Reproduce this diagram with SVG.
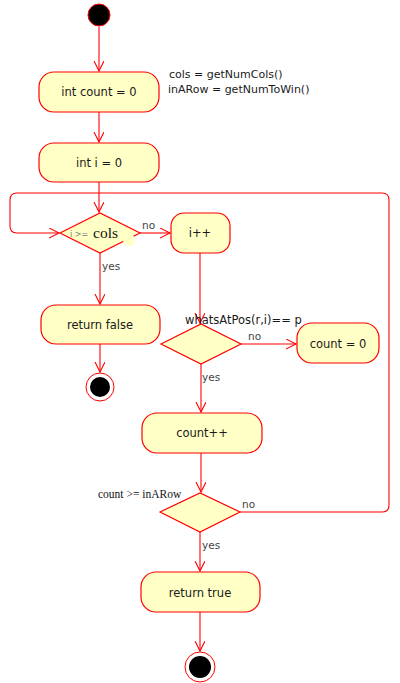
<svg xmlns="http://www.w3.org/2000/svg" width="400" height="683" viewBox="0 0 400 683">
<style>
.node{fill:#ffffc6;stroke:#ff0000;stroke-width:1.2}
.edge{fill:none;stroke:#ff0000;stroke-width:1.1}
.t{font-family:"DejaVu Sans",sans-serif;font-size:11.5px;fill:#1a1a1a}
.n{font-family:"DejaVu Sans",sans-serif;font-size:11px;fill:#1a1a1a}
.lbl{font-family:"DejaVu Sans",sans-serif;font-size:10.5px;fill:#444}
.ser{font-family:"Liberation Serif",serif;fill:#111}
</style>
<defs>
<marker id="arr" markerUnits="userSpaceOnUse" markerWidth="12" markerHeight="12" refX="10" refY="5" orient="auto">
<path d="M0,0 L10,5 L0,10" fill="none" stroke="#ff0000" stroke-width="1.1"/>
</marker>
</defs>
<rect width="400" height="683" fill="#ffffff"/>
<g id="connectors">
<line class="edge" x1="99" y1="27" x2="99" y2="71" marker-end="url(#arr)"/>
<line class="edge" x1="99" y1="112" x2="99" y2="142" marker-end="url(#arr)"/>
<line class="edge" x1="99" y1="182" x2="99" y2="212" marker-end="url(#arr)"/>
<path class="edge" d="M240,512 H382 Q389,512 389,505 V200 Q389,193 382,193 H17 Q10,193 10,200 V226 Q10,233 17,233 H59" marker-end="url(#arr)"/>
<line class="edge" x1="140" y1="233" x2="170" y2="233" marker-end="url(#arr)"/>
<line class="edge" x1="100" y1="253" x2="100" y2="304" marker-end="url(#arr)"/>
<line class="edge" x1="100" y1="344" x2="100" y2="372" marker-end="url(#arr)"/>
<line class="edge" x1="200" y1="253" x2="200" y2="323" marker-end="url(#arr)"/>
<line class="edge" x1="241" y1="344" x2="296" y2="344" marker-end="url(#arr)"/>
<line class="edge" x1="201" y1="364" x2="201" y2="412" marker-end="url(#arr)"/>
<line class="edge" x1="201" y1="453" x2="201" y2="492" marker-end="url(#arr)"/>
<line class="edge" x1="200" y1="532" x2="200" y2="571" marker-end="url(#arr)"/>
<line class="edge" x1="200" y1="612" x2="200" y2="651" marker-end="url(#arr)"/>
</g>
<g id="start">
<circle cx="99" cy="15" r="11" fill="#000" stroke="#ff0000" stroke-width="1"/>
</g>
<g id="count0">
<rect class="node" x="39" y="72" width="120" height="40" rx="15"/>
<text class="t" x="99" y="96" text-anchor="middle">int count = 0</text>
</g>
<g id="note">
<text class="n" x="169" y="78">cols = getNumCols()</text>
<text class="n" x="168" y="93">inARow = getNumToWin()</text>
</g>
<g id="i0">
<rect class="node" x="39" y="143" width="120" height="39" rx="15"/>
<text class="t" x="99" y="167" text-anchor="middle">int i = 0</text>
</g>
<g id="dec1">
<polygon class="node" points="60,233 100,213 140,233 100,253"/>
<circle cx="129" cy="240" r="6" fill="#ffffc6"/>
<text x="70" y="237" font-family="DejaVu Sans,sans-serif" font-size="8" fill="#777">i &gt;=</text>
<text class="ser" x="93" y="238" font-size="15.5">cols</text>
<text class="lbl" x="142" y="229">no</text>
<text class="lbl" x="102" y="270">yes</text>
</g>
<g id="inc">
<rect class="node" x="171" y="213" width="59" height="40" rx="13"/>
<text class="t" x="200" y="237" text-anchor="middle">i++</text>
</g>
<g id="retfalse">
<rect class="node" x="41" y="305" width="119" height="39" rx="15"/>
<text class="t" x="100" y="329" text-anchor="middle">return false</text>
</g>
<g id="end1">
<circle cx="100" cy="387" r="14" fill="#fff" stroke="#ff0000" stroke-width="1"/>
<circle cx="100" cy="387" r="10" fill="#000"/>
</g>
<g id="dec2">
<polygon class="node" points="161,344 201,324 241,344 201,364"/>
<text class="t" x="185" y="324">whatsAtPos(r,i)== p</text>
<text class="lbl" x="248" y="340">no</text>
<text class="lbl" x="202" y="381">yes</text>
</g>
<g id="countzero">
<rect class="node" x="297" y="323" width="82" height="40" rx="15"/>
<text class="t" x="338" y="348" text-anchor="middle">count = 0</text>
</g>
<g id="countinc">
<rect class="node" x="142" y="413" width="120" height="40" rx="15"/>
<text class="t" x="202" y="437" text-anchor="middle">count++</text>
</g>
<g id="dec3">
<polygon class="node" points="160,512 200,493 240,512 200,532"/>
<text class="ser" x="98" y="498" font-size="11.5">count &gt;= inARow</text>
<text class="lbl" x="242" y="508">no</text>
<text class="lbl" x="202" y="549">yes</text>
</g>
<g id="rettrue">
<rect class="node" x="141" y="572" width="119" height="40" rx="15"/>
<text class="t" x="200" y="597" text-anchor="middle">return true</text>
</g>
<g id="end2">
<circle cx="200" cy="667" r="15" fill="#fff" stroke="#ff0000" stroke-width="1"/>
<circle cx="200" cy="667" r="11" fill="#000"/>
</g>
</svg>
